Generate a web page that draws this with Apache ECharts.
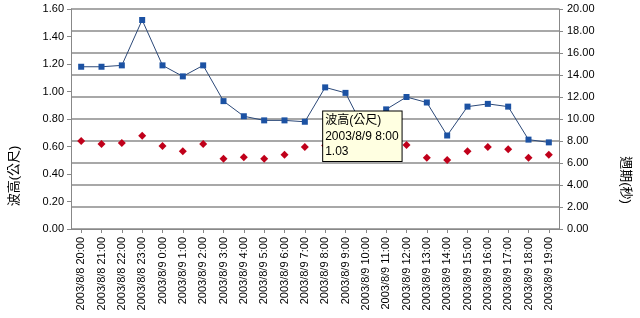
<!DOCTYPE html>
<html>
<head>
<meta charset="utf-8">
<script src="https://cdn.jsdelivr.net/npm/echarts@6/dist/echarts.min.js"></script>
<style>html,body{margin:0;padding:0;background:#fff;}#c{width:640px;height:318px;}</style>
</head>
<body>
<div id="c"></div>
<script>
const categories = ['2003/8/8 20:00','2003/8/8 21:00','2003/8/8 22:00','2003/8/8 23:00',
  '2003/8/9 0:00','2003/8/9 1:00','2003/8/9 2:00','2003/8/9 3:00','2003/8/9 4:00','2003/8/9 5:00',
  '2003/8/9 6:00','2003/8/9 7:00','2003/8/9 8:00','2003/8/9 9:00','2003/8/9 10:00','2003/8/9 11:00',
  '2003/8/9 12:00','2003/8/9 13:00','2003/8/9 14:00','2003/8/9 15:00','2003/8/9 16:00','2003/8/9 17:00',
  '2003/8/9 18:00','2003/8/9 19:00'];
const waveHeight = [1.18,1.18,1.19,1.52,1.19,1.11,1.19,0.93,0.82,0.79,0.79,0.78,1.03,0.99,0.70,0.87,0.96,0.92,0.68,0.89,0.91,0.89,0.65,0.63];
const wavePeriod = [8.00,7.73,7.82,8.48,7.55,7.06,7.73,6.39,6.52,6.39,6.76,7.45,7.60,7.30,6.90,6.70,7.64,6.48,6.27,7.06,7.45,7.24,6.48,6.76];
const leftName = '波高(公尺)';
const rightName = '週期(秒)';
const calloutIndex = 12;

const FONT = '"Liberation Sans", Arial, "Noto Sans CJK TC", sans-serif';
const chart = echarts.init(document.getElementById('c'), null, {renderer: 'canvas'});

const blueData = waveHeight.map((v, i) => {
  if (i !== calloutIndex) return v;
  return {
    value: v,
    label: {
      show: true,
      formatter: leftName + '\n' + categories[i] + '\n' + v.toFixed(2),
      position: [1, 27],
      align: 'left',
      verticalAlign: 'top',
      backgroundColor: '#FFFFE1',
      borderColor: '#000',
      borderWidth: 1,
      padding: [2, 3, 1, 2],
      color: '#000',
      fontSize: 12,
      lineHeight: 15.5,
      fontFamily: FONT
    }
  };
});

chart.setOption({
  animation: false,
  textStyle: {fontFamily: FONT},
  grid: {left: 65, right: 76, top: 9, bottom: 89},
  xAxis: {
    type: 'category',
    data: categories,
    boundaryGap: true,
    axisLine: {lineStyle: {color: '#888', width: 1}},
    axisTick: {show: true, alignWithLabel: true, length: 4, lineStyle: {color: '#888'}},
    axisLabel: {rotate: 90, interval: 0, margin: 8, color: '#000', fontSize: 11, fontFamily: FONT},
    splitLine: {show: false}
  },
  yAxis: [{
    type: 'value', min: 0, max: 1.6, interval: 0.2, position: 'left',
    name: leftName, nameLocation: 'middle', nameGap: 50,
    nameTextStyle: {fontSize: 13, color: '#000', fontFamily: FONT, padding: [0, 114, 0, 0]},
    axisLine: {show: true, lineStyle: {color: '#888'}},
    axisTick: {show: true, length: 4, lineStyle: {color: '#888'}},
    axisLabel: {formatter: v => v.toFixed(2), margin: 7, color: '#000', fontSize: 11, fontFamily: FONT},
    splitLine: {show: false}
  }, {
    type: 'value', min: 0, max: 20, interval: 2, position: 'right',
    name: rightName, nameLocation: 'middle', nameGap: 60, nameRotate: -90,
    nameTextStyle: {fontSize: 13, color: '#000', fontFamily: FONT, padding: [0, 0, 0, 122]},
    axisLine: {show: true, lineStyle: {color: '#888'}},
    axisTick: {show: true, length: 4, lineStyle: {color: '#888'}},
    axisLabel: {formatter: v => v.toFixed(2), margin: 8, color: '#000', fontSize: 11, fontFamily: FONT},
    splitLine: {show: true, lineStyle: {color: '#a8a8a8', width: 2}}
  }],
  series: [{
    name: rightName, type: 'line', yAxisIndex: 1, z: 2,
    data: wavePeriod,
    symbol: 'diamond', symbolSize: 8, showSymbol: true,
    lineStyle: {width: 0, opacity: 0},
    itemStyle: {color: '#C0001A'}
  }, {
    name: leftName, type: 'line', yAxisIndex: 0, z: 3,
    data: blueData,
    symbol: 'rect', symbolSize: 6, showSymbol: true,
    lineStyle: {color: '#2B4878', width: 1},
    itemStyle: {color: '#1C52A3'}
  }]
});
</script>
</body>
</html>
